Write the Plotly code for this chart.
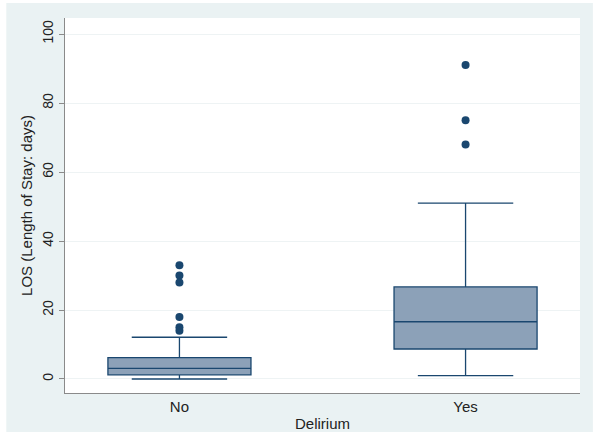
import plotly.graph_objects as go

categories = ["No", "Yes"]
q1 = [1.2, 8.7]
median = [3.1, 16.6]
q3 = [6.2, 26.7]
lower = [0.0, 1.0]
upper = [12.1, 51.0]
outlier_x = ["No", "No", "No", "No", "No", "No", "Yes", "Yes", "Yes"]
outlier_y = [33, 30, 28, 18, 15, 14, 91, 75, 68]

navy = "#1A476F"
fill = "#8CA1B8"

fig = go.Figure()
fig.add_trace(go.Box(
    x=categories, q1=q1, median=median, q3=q3,
    lowerfence=lower, upperfence=upper,
    boxpoints=False, width=0.5, whiskerwidth=0.667,
    fillcolor=fill, line=dict(color=navy, width=1.3),
    showlegend=False, hoverinfo="skip",
))
fig.add_trace(go.Scatter(
    x=outlier_x, y=outlier_y, mode="markers",
    marker=dict(color=navy, size=8),
    showlegend=False, hoverinfo="skip",
))

# outer light panel, then white plot region on top of it (both under gridlines)
fig.add_shape(type="rect", xref="paper", yref="paper",
              x0=-0.114, x1=1.025, y0=-0.104, y1=1.04,
              fillcolor="#EAF2F3", line=dict(width=0), layer="below")
fig.add_shape(type="rect", xref="paper", yref="paper",
              x0=0, x1=1, y0=0, y1=1,
              fillcolor="white", line=dict(width=0), layer="below")

fig.update_layout(
    width=602, height=437,
    margin=dict(l=65, r=22, t=18, b=44),
    paper_bgcolor="white", plot_bgcolor="white",
    font=dict(family="Liberation Sans, Arial, sans-serif", size=14, color="#222"),
    xaxis=dict(
        type="category", range=[-0.4, 1.4], automargin=False,
        showline=True, linecolor="#8a8a8a", linewidth=1,
        ticks="", showgrid=False,
        title=dict(text="Delirium", standoff=4, font=dict(size=15)),
        tickfont=dict(size=15),
    ),
    yaxis=dict(
        range=[-4.06, 104.64], automargin=False,
        tickvals=[0, 20, 40, 60, 80, 100],
        showline=True, linecolor="#8a8a8a", linewidth=1,
        ticks="outside", ticklen=5, tickcolor="#8a8a8a",
        tickangle=-90, tickfont=dict(size=14),
        showgrid=True, gridcolor="#EEF3F4", gridwidth=1,
        zeroline=False,
        title=dict(text="LOS (Length of Stay: days)", standoff=4, font=dict(size=15)),
    ),
)

fig.write_html(
    "out.html",
    config={"displayModeBar": False},
    post_script="document.body.style.margin='0';document.body.style.overflow='hidden';",
)
